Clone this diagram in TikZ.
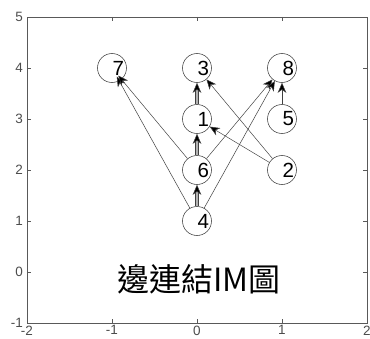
\documentclass[tikz,border=0pt]{standalone}
\usepackage{fontspec}
\setmainfont{Liberation Sans}
\newfontfamily\cjk{Noto Sans CJK TC}
\usetikzlibrary{arrows.meta}
\begin{document}
\begin{tikzpicture}[x=85pt,y=51pt,
  vtx/.style={circle,draw=black!75,line width=0.55pt,minimum size=29pt,inner sep=0pt},
  lbl/.style={anchor=west,inner sep=0pt,font=\fontsize{20.5}{22}\selectfont},
  edge/.style={draw=black!75,line width=0.5pt,-{Stealth[length=10pt,width=8.5pt,inset=3pt,fill=black]}},
  vedge/.style={edge,double=black!30,double distance=2.2pt,line width=0.5pt},
  tick/.style={draw=black!65,line width=0.8pt},
  ticklbl/.style={inner sep=0pt,font=\fontsize{13.5}{14}\selectfont,text=black!70}
]
\useasboundingbox (-2.31765,-1.29412) rectangle (2.03529,5.33333);
\draw[tick] (-2,-1) rectangle (2,5);
\foreach \x in {-1,0,1} {
  \draw[tick] (\x,-1) -- ++(0,4pt);
  \draw[tick] (\x,5) -- ++(0,-4pt);
}
\foreach \y in {0,...,4} {
  \draw[tick] (-2,\y) -- ++(4pt,0);
  \draw[tick] (2,\y) -- ++(-4pt,0);
}
\foreach \x in {-2,-1,0,1,2} {
  \node[ticklbl,anchor=north] (xt\x) at ([yshift=-2.5pt]\x,-1) {\x};
}
\foreach \y in {-1,0,...,5} {
  \node[ticklbl,anchor=east] (yt\y) at ([xshift=-4pt]-2,\y) {\y};
}
% vertices
\node[vtx] (n1) at (0,3) {};
\node[vtx] (n2) at (1,2) {};
\node[vtx] (n3) at (0,4) {};
\node[vtx] (n4) at (0,1) {};
\node[vtx] (n5) at (1,3) {};
\node[vtx] (n6) at (0,2) {};
\node[vtx] (n7) at (-1,4) {};
\node[vtx] (n8) at (1,4) {};
\foreach \i/\x/\y in {1/0/3,2/1/2,3/0/4,4/0/1,5/1/3,6/0/2,7/-1/4,8/1/4} {
  \node[lbl] (l\i) at ([xshift=0.5pt]\x,\y) {\i};
}
% edges
\draw[vedge] (n4) -- (n6);
\draw[vedge] (n6) -- (n1);
\draw[vedge] (n1) -- (n3);
\draw[edge,shorten >=-5pt] (n4) -- (n7);
\draw[edge,shorten >=-5pt] (n6) -- (n7);
\draw[edge] (n6) -- (n8);
\draw[edge] (n4) -- (n8);
\draw[edge] (n2) -- (n1);
\draw[edge] (n2) -- (n3);
\draw[edge] (n5) -- (n8);
\node[font=\cjk\fontsize{32}{34}\selectfont] (title) at (0.02,-0.14) {邊連結IM圖};
\end{tikzpicture}
\end{document}
